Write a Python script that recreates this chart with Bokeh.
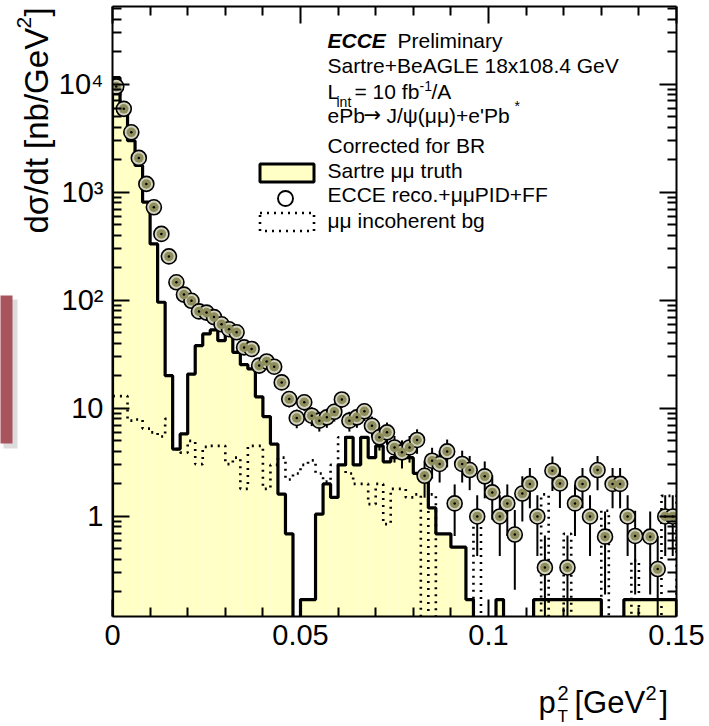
import numpy as np
from bokeh.plotting import figure
from bokeh.models import (Range1d, FixedTicker, LinearAxis, LogAxis, Label,
                          BoxAnnotation)
from bokeh.core.properties import value
from bokeh.embed import file_html
from bokeh.resources import INLINE

# ---- binning: 75 bins of 0.002 GeV^2 in pT^2 -------------------------------
BIN_WIDTH = 0.002
N_BINS = 75
edges = np.round(np.arange(N_BINS + 1) * BIN_WIDTH, 4)
centers = edges[:-1] + BIN_WIDTH / 2

# Sartre mu-mu truth, dsigma/dt [nb/GeV^2]
sartre_truth = [
    11500, 6600, 3000, 1770, 810, 333, 96, 20.1, 4.2, 5.8,
    20.8, 38.1, 48.9, 53.2, 42.4, 49.5, 33, 25.4, 23.2, 12.8,
    8.4, 4.68, 1.61, 0.69, 0, 0.17, 0.17, 1.05, 2.0, 1.5,
    3.0, 5.4, 3.0, 5.4, 3.5, 4.5, 3.2, 3.5, 3.5, 3.5,
    2.5, 2.5, 1.2, 0.69, 0.69, 0.52, 0.52, 0.17, 0, 0,
    0, 0.17, 0, 0, 0, 0, 0.17, 0.17, 0.17, 0.17,
    0.17, 0.17, 0.17, 0.17, 0.17, 0, 0, 0, 0.17, 0.17,
    0.17, 0.17, 0.17, 0.17, 0.17,
]

# ECCE reconstructed + mu-mu PID + far-forward veto
ecce_reco = [
    9520, 5920, 3590, 2080, 1196, 726, 412, 255, 147, 113,
    99, 79, 77, 70, 60, 54, 50.6, 36.7, 35.5, 24.9,
    27.2, 24.3, 17.4, 12.2, 8.15, 11.4, 8.56, 7.7, 8.26, 9.3,
    12.1, 7.7, 8.26, 9.4, 6.9, 5.4, 6.0, 4.35, 3.92, 4.35,
    5.1, 2.38, 3.28, 3.06, 4.0, 1.32, 3.06, 2.69, 1.0, 2.35,
    1.67, 1.0, 1.32, 0.68, 1.63, 2.0, 1.0, 0.337, 2.65, 2.02,
    0.337, 1.32, 2.0, 1.0, 2.69, 0.65, 2.0, 2.0, 1.0, 0.66,
    0, 0.65, 0.326, 1.0, 1.0,
]
ecce_reco_err = [
    56, 44, 34, 26, 20, 15.5, 11.7, 9.2, 7.0, 6.1,
    5.7, 5.1, 5.0, 4.8, 4.4, 4.2, 4.1, 3.5, 3.4, 2.9,
    3.0, 2.8, 2.4, 2.0, 1.6, 1.9, 1.7, 1.6, 1.65, 1.75,
    2.0, 1.6, 1.65, 1.76, 1.5, 1.33, 1.4, 1.2, 1.14, 1.2,
    1.3, 0.89, 1.04, 1.0, 1.15, 0.66, 1.0, 0.94, 0.57, 0.88,
    0.74, 0.57, 0.66, 0.47, 0.73, 0.81, 0.57, 0.33, 0.93, 0.82,
    0.33, 0.66, 0.81, 0.57, 0.94, 0.46, 0.81, 0.81, 0.57, 0.47,
    0, 0.46, 0.33, 0.57, 0.57,
]

# mu-mu incoherent background
incoherent_bg = [
    13, 13, 7.7, 7.9, 6.5, 6.0, 5.5, 8.0, 4.2, 3.9,
    5.0, 3.05, 4.4, 4.5, 4.5, 3.05, 3.5, 1.8, 4.5, 4.5,
    1.8, 3.0, 3.5, 2.2, 2.5, 3.0, 3.3, 2.5, 2.1, 3.0,
    5.4, 2.5, 2.0, 2.0, 1.3, 2.0, 0.85, 1.8, 1.8, 1.5,
    1.6, 0, 1.6, 0, 0, 0, 0, 0, 1.05, 0,
    0, 0, 0, 0, 0, 0, 0, 1.6, 0, 0,
    0.69, 0, 0, 0, 0, 1.13, 0, 0, 0, 0.39,
    0, 0, 0, 1.55, 1.55,
]

X_TICKS = [0, 0.05, 0.1, 0.15]
Y_TICKS = [1, 10, 100, 1000, 10000]
Y_TICK_LABELS = {1: "1", 10: "10", 100: "10\u00b2", 1000: "10\u00b3", 10000: "10\u2074"}

FONT = "Liberation Sans"
Y_MIN, Y_MAX = 0.1186, 52400
FLOOR = 1e-4          # stand-in for empty bins, below the visible range
BASELINE_SHIFT = 0.34  # em offset between the text anchor and its baseline

W, H = 709, 726
BORDER_L, BORDER_R, BORDER_T, BORDER_B = 112, 33, 6, 110
FRAME_W = W - BORDER_L - BORDER_R
FRAME_H = H - BORDER_T - BORDER_B

p = figure(width=W, height=H, x_range=Range1d(0, 0.15),
           y_range=Range1d(Y_MIN, Y_MAX), y_axis_type="log",
           output_backend="svg", toolbar_location=None,
           min_border_left=BORDER_L, min_border_right=BORDER_R,
           min_border_top=BORDER_T, min_border_bottom=BORDER_B)
p.grid.visible = False
p.outline_line_color = None
p.background_fill_color = "white"
p.border_fill_color = "white"


def floored(vals):
    v = np.asarray(vals, dtype=float)
    return np.where(v > 0, v, FLOOR)


def step_path(vals):
    v = floored(vals)
    xs = np.concatenate([[edges[0]], np.repeat(edges, 2)[1:-1], [edges[-1]]])
    ys = np.concatenate([[FLOOR], np.repeat(v, 2), [FLOOR]])
    return xs, ys


def canvas_to_data(X, Y):
    """Canvas pixel (from top-left) -> data coordinates of this frame."""
    xd = (np.asarray(X, float) - BORDER_L) / FRAME_W * 0.15
    lo, hi = np.log10(Y_MIN), np.log10(Y_MAX)
    ly = lo + (H - BORDER_B - np.asarray(Y, float)) / FRAME_H * (hi - lo)
    return xd, 10 ** ly


# truth histogram: pale yellow fill + thick black outline
p.quad(left=edges[:-1], right=edges[1:], top=floored(sartre_truth),
       bottom=FLOOR, fill_color="#ffffc6", line_color=None)
tx, ty = step_path(sartre_truth)
p.line(tx, ty, line_color="black", line_width=3.2)

# incoherent background: dotted step outline
bx, by = step_path(incoherent_bg)
p.line(bx, by, line_color="black", line_width=2.6, line_dash="2 5")

# reconstructed points with statistical error bars
reco = np.asarray(ecce_reco, dtype=float)
err = np.asarray(ecce_reco_err, dtype=float)
has = reco > 0
p.segment(x0=centers[has], x1=centers[has],
          y0=np.maximum(reco[has] - err[has], FLOOR), y1=reco[has] + err[has],
          line_color="black", line_width=2)
p.scatter(centers[has], reco[has], marker="circle", size=15,
          fill_color="#d2d2bf", line_color="black", line_width=1.6)
p.scatter(centers[has], reco[has], marker="circle", size=9.5,
          fill_color="#8e8d5c", line_color=None)
p.scatter(centers[has], reco[has], marker="circle", size=2.5,
          fill_color="black", line_color=None)

# ---- axes: ROOT style, ticks inside on all four sides ----------------------
x_minor = [round(0.01 * i, 2) for i in range(1, 15) if i % 5]
y_minor = [m * 10.0 ** e for e in range(-1, 5) for m in range(2, 10)
           if Y_MIN <= m * 10.0 ** e <= Y_MAX]


def style_axis(ax, ticks, minor):
    ax.ticker = FixedTicker(ticks=ticks, minor_ticks=minor)
    ax.axis_line_width = 2
    ax.axis_line_color = "black"
    ax.major_tick_in = 17
    ax.major_tick_out = 0
    ax.minor_tick_in = 9
    ax.minor_tick_out = 0
    ax.major_tick_line_width = 2
    ax.minor_tick_line_width = 2
    ax.major_label_text_font = FONT
    ax.major_label_text_font_size = "29px"
    ax.major_label_text_color = "black"


style_axis(p.xaxis[0], X_TICKS, x_minor)
p.xaxis[0].major_label_standoff = 8
style_axis(p.yaxis[0], Y_TICKS, y_minor)
p.yaxis[0].major_label_overrides = Y_TICK_LABELS
p.yaxis[0].major_label_standoff = 9

top_axis = LinearAxis()
style_axis(top_axis, X_TICKS, x_minor)
top_axis.major_label_text_color = None
p.add_layout(top_axis, "above")
right_axis = LogAxis()
style_axis(right_axis, Y_TICKS, y_minor)
right_axis.major_label_text_color = None
p.add_layout(right_axis, "right")


# ---- text in the frame: X = left edge, Y = baseline (canvas pixels) ---------
def put(text, X, Y, size, style="normal", font=FONT):
    Ya = Y - BASELINE_SHIFT * size
    p.add_layout(Label(x=X - BORDER_L, y=(H - BORDER_B) - Ya,
                       x_units="screen", y_units="screen", text=text,
                       text_font=font, text_font_size=f"{size}px",
                       text_font_style=style, text_color="black",
                       text_baseline="alphabetic", text_align="left"))


# text outside the frame: an unclipped text glyph on the overlay level
def put_out(text, X, Y, size, rotated=False):
    if rotated:
        X = X - BASELINE_SHIFT * size
    else:
        Y = Y - BASELINE_SHIFT * size
    xd, yd = canvas_to_data(X, Y)
    p.text(x=[float(xd)], y=[float(yd)], text=[text],
           angle=np.pi / 2 if rotated else 0.0,
           text_font=value(FONT), text_font_size=value(f"{size}px"),
           text_color="black", text_baseline=value("alphabetic"),
           text_align=value("left"), level="overlay")


# y-axis title (rotated, reading upwards)
put_out("d\u03c3/dt [nb/GeV", 47, 233, 33, rotated=True)
put_out("2", 31, 28, 21, rotated=True)
put_out("]", 47, 16, 33, rotated=True)

# x-axis title
put_out("p", 538, 713, 31)
put_out("2", 557, 699, 20)
put_out("T", 557, 722, 17)
put_out("[GeV", 574, 713, 31)
put_out("2", 645, 699, 20)
put_out("]", 659, 713, 31)

# header
TX = 327
put("ECCE", TX, 47, 21, style="bold italic")
put("Preliminary", 397, 47, 21)
put("Sartre+BeAGLE 18x108.4 GeV", TX, 72, 21)
put("L", TX, 98, 21)
put("int", 336, 106, 14)
put("= 10 fb", 354, 98, 21)
put("-1", 419, 90, 14)
put("/A", 431, 98, 21)
put("ePb", TX, 122, 21)
put("\u2192", 363, 122, 21, font="DejaVu Sans")
put("J/\u03c8(\u03bc\u03bc)+e'Pb", 386, 122, 21)
put("*", 514, 110, 14)
put("Corrected for BR", TX, 152, 21)

# legend entries
put("Sartre \u03bc\u03bc truth", TX, 177, 21)
put("ECCE reco.+\u03bc\u03bcPID+FF", TX, 201, 21)
put("\u03bc\u03bc incoherent bg", TX, 227, 21)


def box(l, t, r, b, **kw):
    p.add_layout(BoxAnnotation(left=l - BORDER_L, right=r - BORDER_L,
                               top=(H - BORDER_B) - t, bottom=(H - BORDER_B) - b,
                               left_units="screen", right_units="screen",
                               top_units="screen", bottom_units="screen", **kw))


box(259.5, 163.5, 313.5, 181.5, fill_color="#ffffc6", fill_alpha=1,
    line_color="black", line_width=3, line_alpha=1)
box(259.5, 212.5, 313.5, 230.5, fill_alpha=0, line_color="black",
    line_width=2.6, line_dash="2 5", line_alpha=1)

lx, ly = canvas_to_data(285, 198)
p.scatter([float(lx)], [float(ly)], marker="circle", size=15, fill_color="white",
          line_color="black", line_width=1.9)

# side tab at the left page edge (outside the frame, overlay level)
sx0, sy0 = canvas_to_data([3, 0], [448, 443])
sx1, sy1 = canvas_to_data([17, 12], [299, 295])
p.quad(left=sx0[:1], right=sx1[:1], bottom=sy0[:1], top=sy1[:1],
       fill_color="#9a9a9a", fill_alpha=0.35, line_color=None, level="overlay")
p.quad(left=sx0[1:], right=sx1[1:], bottom=sy0[1:], top=sy1[1:],
       fill_color="#a9535d", line_color=None, level="overlay")

open("out.html", "w").write(file_html(p, INLINE))
